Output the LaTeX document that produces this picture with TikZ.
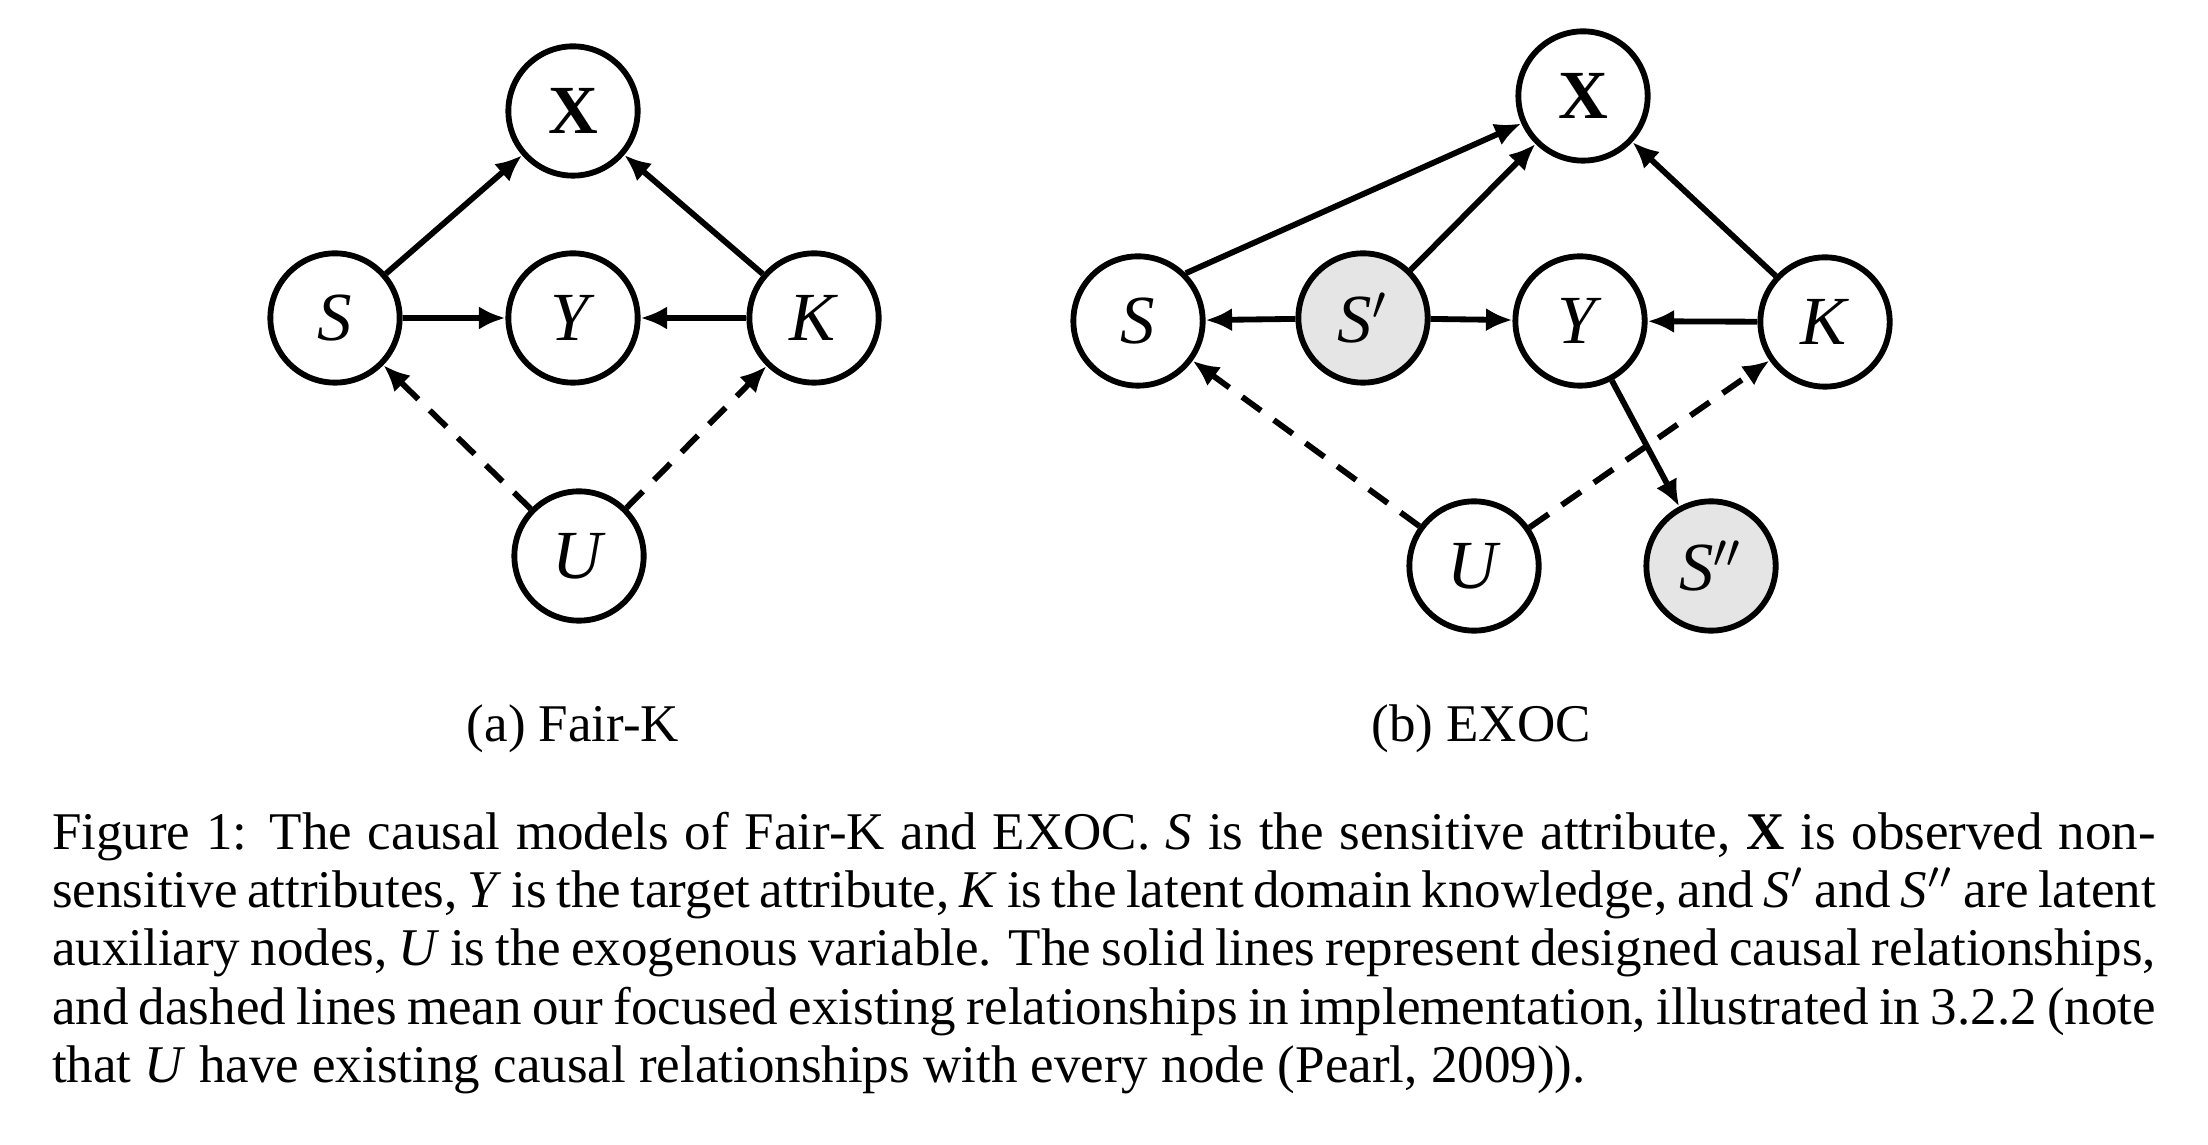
\documentclass[tikz,border=0pt]{standalone}
\usepackage{fontspec}
\setmainfont{Liberation Serif}
\usepackage{tikz}
\usetikzlibrary{arrows.meta, positioning}

\begin{document}
\begin{tikzpicture}[x=0.1887pt, y=-0.1887pt,
    var/.style={circle, draw, line width=1.1pt, minimum size=24.4pt, inner sep=0pt,
        font=\fontsize{13}{15}\selectfont},
    latent/.style={var, fill=gray!20},
    cause/.style={line width=1.1pt, -{Latex[length=5pt, width=4.4pt]}},
    exo/.style={cause, dash pattern=on 4.4pt off 3pt}]
\useasboundingbox (0,0) rectangle (2208,1144);
% (a) Fair-K
\node[var] (aX) at (573,111) {\textbf{X}};
\node[var] (aS) at (335,318) {\textit{S}};
\node[var] (aY) at (573,318) {\textit{Y}};
\node[var] (aK) at (814,318) {\textit{K}};
\node[var] (aU) at (579,556) {\textit{U}};
\draw[cause] (aS) -- (aX);
\draw[cause] (aK) -- (aX);
\draw[cause] (aS) -- (aY);
\draw[cause] (aK) -- (aY);
\draw[exo] (aU) -- (aS);
\draw[exo] (aU) -- (aK);
\node[anchor=base, font=\fontsize{10}{11}\selectfont] (acap) at (573,741) {(a) Fair-K};
% (b) EXOC
\node[var] (bX) at (1583,96) {\textbf{X}};
\node[var] (bS) at (1138,321) {\textit{S}};
\node[latent] (bSp) at (1363,318) {\textit{S}$'$};
\node[var] (bY) at (1580,321) {\textit{Y}};
\node[var] (bK) at (1825,322) {\textit{K}};
\node[var] (bU) at (1474,566) {\textit{U}};
\node[latent] (bSpp) at (1711,566) {\textit{S}$''$};
\draw[cause] (bS.45) -- (bX);
\draw[cause] (bSp) -- (bX);
\draw[cause] (bK) -- (bX);
\draw[cause] (bSp) -- (bS);
\draw[cause] (bSp) -- (bY);
\draw[cause] (bK) -- (bY);
\draw[cause] (bY) -- (bSpp);
\draw[exo] (bU) -- (bS);
\draw[exo] (bU) -- (bK);
\node[anchor=base, font=\fontsize{10}{11}\selectfont] (bcap) at (1481,741) {(b) EXOC};
% caption
\node[anchor=north west, inner sep=0pt, text width=397pt, align=justify,
    font=\fontsize{10}{11}\selectfont] (fig) at (51,811)
{\hyphenpenalty=10000 Figure 1: The causal models of Fair-K and EXOC. \textit{S} is the sensitive attribute, \textbf{X} is observed non-\linebreak
sensitive attributes, \textit{Y} is the target attribute, \textit{K} is the latent domain knowledge, and \textit{S}$'$ and \textit{S}$''$ are latent\linebreak
auxiliary nodes, \textit{U} is the exogenous variable. The solid lines represent designed causal relationships,\linebreak
and dashed lines mean our focused existing relationships in implementation, illustrated in 3.2.2 (note\linebreak
that \textit{U} have existing causal relationships with every node (Pearl, 2009)).};
\end{tikzpicture}
\end{document}
